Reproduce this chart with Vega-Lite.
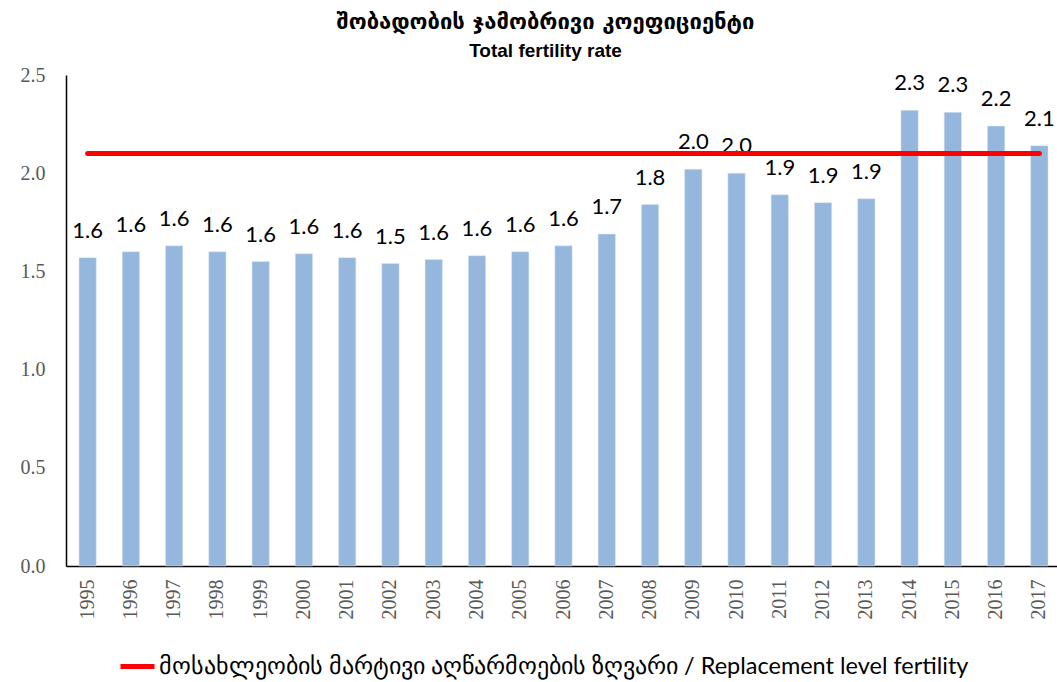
{
  "$schema": "https://vega.github.io/schema/vega-lite/v6.json",
  "autosize": {"type": "none"},
  "padding": {"left": 66, "top": 75, "right": 0, "bottom": 116},
  "width": 995,
  "height": 491,
  "background": "white",
  "title": {
    "text": "შობადობის ჯამობრივი კოეფიციენტი",
    "subtitle": "Total fertility rate",
    "font": "DejaVu Sans",
    "fontSize": 22,
    "fontWeight": "bold",
    "color": "black",
    "subtitleFont": "Liberation Sans",
    "subtitleFontSize": 19,
    "subtitleFontWeight": "bold",
    "subtitleColor": "black",
    "subtitlePadding": 8,
    "anchor": "middle",
    "dx": -18,
    "offset": 3
  },
  "config": {
    "view": {"stroke": null}
  },
  "layer": [
    {
      "data": {
        "values": [
          {"year": "1995", "tfr": 1.57},
          {"year": "1996", "tfr": 1.60},
          {"year": "1997", "tfr": 1.63},
          {"year": "1998", "tfr": 1.60},
          {"year": "1999", "tfr": 1.55},
          {"year": "2000", "tfr": 1.59},
          {"year": "2001", "tfr": 1.57},
          {"year": "2002", "tfr": 1.54},
          {"year": "2003", "tfr": 1.56},
          {"year": "2004", "tfr": 1.58},
          {"year": "2005", "tfr": 1.60},
          {"year": "2006", "tfr": 1.63},
          {"year": "2007", "tfr": 1.69},
          {"year": "2008", "tfr": 1.84},
          {"year": "2009", "tfr": 2.02},
          {"year": "2010", "tfr": 2.00},
          {"year": "2011", "tfr": 1.89},
          {"year": "2012", "tfr": 1.85},
          {"year": "2013", "tfr": 1.87},
          {"year": "2014", "tfr": 2.32},
          {"year": "2015", "tfr": 2.31},
          {"year": "2016", "tfr": 2.24},
          {"year": "2017", "tfr": 2.14}
        ]
      },
      "layer": [
        {
          "mark": {"type": "bar", "color": "#95B7DE", "stroke": "#DCE6F2", "strokeWidth": 0.5},
          "encoding": {
            "x": {
              "field": "year", "type": "nominal",
              "scale": {"paddingInner": 0.6, "paddingOuter": 0.3},
              "axis": {
                "title": null,
                "labelAngle": -90,
                "labelFont": "Liberation Serif",
                "labelFontSize": 20,
                "labelColor": "#595959",
                "labelPadding": 13,
                "ticks": false,
                "domainColor": "black",
                "domainWidth": 1.5
              }
            },
            "y": {
              "field": "tfr", "type": "quantitative",
              "scale": {"domain": [0, 2.5], "nice": false},
              "axis": {
                "title": null,
                "values": [0, 0.5, 1, 1.5, 2, 2.5],
                "format": ".1f",
                "labelFont": "Liberation Serif",
                "labelFontSize": 20,
                "labelColor": "#595959",
                "labelPadding": 21,
                "ticks": false,
                "grid": false,
                "domainColor": "black",
                "domainWidth": 1.5
              }
            }
          }
        },
        {
          "mark": {"type": "text", "baseline": "bottom", "dy": -15, "font": "Lato", "fontSize": 22, "color": "black"},
          "encoding": {
            "x": {"field": "year", "type": "nominal"},
            "y": {"field": "tfr", "type": "quantitative"},
            "text": {"field": "tfr", "type": "quantitative", "format": ".1f"}
          }
        }
      ]
    },
    {
      "data": {
        "values": [
          {"year": "1995", "level": 2.1, "series": "მოსახლეობის მარტივი აღწარმოების ზღვარი / Replacement level fertility"},
          {"year": "2017", "level": 2.1, "series": "მოსახლეობის მარტივი აღწარმოების ზღვარი / Replacement level fertility"}
        ]
      },
      "mark": {"type": "line", "strokeWidth": 5, "strokeCap": "round"},
      "encoding": {
        "x": {"field": "year", "type": "nominal"},
        "y": {"field": "level", "type": "quantitative"},
        "color": {
          "field": "series", "type": "nominal",
          "scale": {"range": ["#FF0000"]},
          "legend": {
            "title": null,
            "orient": "none",
            "legendX": 52,
            "legendY": 572,
            "symbolType": "stroke",
            "symbolSize": 1156,
            "symbolStrokeWidth": 5,
            "labelFont": "Lato",
            "labelFontSize": 23.5,
            "labelColor": "black",
            "labelLimit": 1000,
            "labelOffset": 2
          }
        }
      }
    }
  ]
}
